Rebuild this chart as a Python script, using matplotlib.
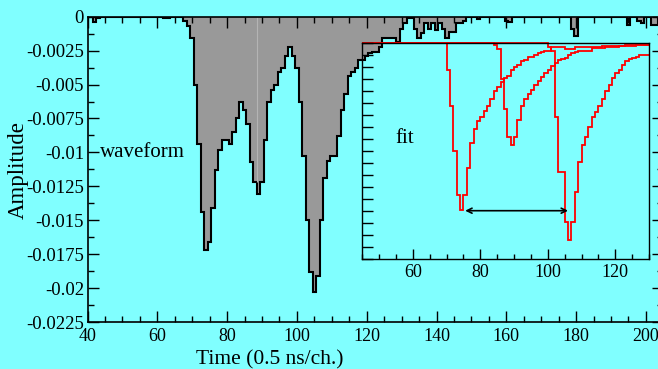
import matplotlib
matplotlib.use("Agg")
import matplotlib.pyplot as plt
import matplotlib.transforms as mtransforms
import numpy as np
from matplotlib.ticker import MultipleLocator

plt.rcParams['font.family'] = ['Liberation Serif', 'DejaVu Serif']
plt.rcParams['axes.unicode_minus'] = False

BG = '#80ffff'

# digitised waveform, one value per channel (channels 40..205)
wave_start = 40
wave_amp = [
    0, 0, -0.0004, -0.0001, 0, 0, 0, 0, 0, 0,                                   # 40-49
    0, 0, 0, 0, 0, 0, 0, 0, 0, 0,                                                # 50-59
    0, 0, -0.0001, -0.0001, 0, 0, 0, 0, -0.0003, -0.0007,                        # 60-69
    -0.0016, -0.0050, -0.0094, -0.0144, -0.0172, -0.0166, -0.0141, -0.0113, -0.0098, -0.0091,  # 70-79
    -0.0091, -0.0094, -0.0085, -0.0075, -0.0063, -0.0069, -0.0079, -0.0107, -0.0122, -0.0131,  # 80-89
    -0.0122, -0.0091, -0.0063, -0.0054, -0.0050, -0.0041, -0.0038, -0.0029, -0.0022, -0.0029,  # 90-99
    -0.0038, -0.0063, -0.0103, -0.0150, -0.0188, -0.0203, -0.0191, -0.0150, -0.0119, -0.0106,  # 100-109
    -0.0103, -0.0103, -0.0088, -0.0069, -0.0057, -0.0044, -0.0041, -0.0038, -0.0032, -0.0032,  # 110-119
    -0.0029, -0.0027, -0.0026, -0.0026, -0.0022, -0.0016, -0.0016, -0.0016, -0.0016, -0.0019,  # 120-129
    -0.0009, -0.0005, -0.0001, -0.0001, -0.0009, -0.0016, -0.0012, -0.0005, -0.0009, -0.0005,  # 130-139
    -0.0010, -0.0005, -0.0009, -0.0016, -0.0011, -0.0011, -0.0005, -0.0005, -0.0003, 0,        # 140-149
    0, 0, -0.0002, 0, 0, 0, 0, 0, 0, 0,                                          # 150-159
    -0.0003, -0.0004, 0, 0, 0, 0, 0, 0, 0, 0,                                    # 160-169
    0, 0, 0, 0, 0, 0, 0, 0, 0, -0.0009,                                          # 170-179
    -0.0014, 0, 0, 0, 0, 0, 0, 0, 0, 0,                                          # 180-189
    0, 0, 0, 0, 0, -0.0006, 0, 0, -0.0003, -0.0005,                              # 190-199
    0, 0, -0.0006, -0.0006, 0, 0,                                                # 200-205
]

# fitted single pulses (inset), values per channel from the given start channel
fit_lo, fit_hi = 45, 130
pulse_a_start = 70
pulse_a = [-0.0022, -0.0052, -0.0090, -0.0126, -0.0139, -0.0126, -0.0104, -0.0083, -0.0071, -0.0065,
           -0.0061, -0.0056, -0.0052, -0.0046, -0.0040, -0.0036, -0.0032, -0.0029, -0.0027, -0.0022,
           -0.0020, -0.0018, -0.0015, -0.0014, -0.0011, -0.0011, -0.0010, -0.0008, -0.0007, -0.0006,
           -0.0006, -0.0003, -0.0003, -0.0003, -0.0003, -0.0005, -0.0005, -0.0005, -0.0003, -0.0003,
           -0.0003, -0.0003, -0.0003, -0.0003, -0.0003, -0.0003, -0.0002, -0.0002, -0.0002, -0.0002,
           -0.0002, -0.0002, -0.0002, -0.0001, -0.0001, -0.0001, -0.0001, -0.0001, -0.0001, -0.0001]
pulse_b_start = 84
pulse_b = [-0.0001, -0.0005, -0.0030, -0.0055, -0.0078, -0.0085, -0.0078, -0.0064, -0.0052, -0.0046,
           -0.0042, -0.0039, -0.0035, -0.0031, -0.0028, -0.0025, -0.0022, -0.0019, -0.0016, -0.0014,
           -0.0013, -0.0012, -0.0010, -0.0008, -0.0007, -0.0006, -0.0006, -0.0006, -0.0006, -0.0004,
           -0.0004, -0.0004, -0.0004, -0.0003, -0.0003, -0.0003, -0.0003, -0.0002, -0.0002, -0.0002,
           -0.0002, -0.0002, -0.0001, -0.0001, -0.0001, -0.0001]
pulse_c_start = 100
pulse_c = [-0.0003, -0.0006, -0.0061, -0.0107, -0.0107, -0.0149, -0.0164, -0.0149, -0.0124, -0.0099,
           -0.0085, -0.0078, -0.0070, -0.0061, -0.0057, -0.0052, -0.0046, -0.0040, -0.0035, -0.0029,
           -0.0025, -0.0022, -0.0018, -0.0015, -0.0013, -0.0012, -0.0011, -0.0010, -0.0010, -0.0010]

# time difference marker between the two big pulses
arrow_x0, arrow_x1, arrow_y = 75.5, 106.0, -0.01395

W, H = 658, 369
fig = plt.figure(figsize=(W / 100, H / 100), dpi=100, facecolor=BG)

# main axes (right edge runs just past the picture border)
ax = fig.add_axes([87.5 / W, 1 - 322 / H, (663.4 - 87.5) / W, (322 - 16.7) / H], facecolor=BG)
edges = np.arange(wave_start - 0.5, wave_start + len(wave_amp) + 0.5)
ax.stairs(wave_amp, edges, fill=True, color='#999999', baseline=0)
ax.vlines(88.5, wave_amp[88 - wave_start], 0, color='#b4b4b4', lw=0.8)
ax.stairs(wave_amp, edges, color='black', lw=1.5, baseline=None)

ax.set_xlim(40, 205)
ax.set_ylim(-0.0225, 0)
ax.xaxis.set_major_locator(MultipleLocator(20))
ax.xaxis.set_minor_locator(MultipleLocator(5))
yt = np.arange(0, -0.0226, -0.0025)
ax.set_yticks(yt)
ax.set_yticklabels(['0', '-0.0025', '-0.005', '-0.0075', '-0.01', '-0.0125',
                    '-0.015', '-0.0175', '-0.02', '-0.0225'])
ax.yaxis.set_minor_locator(MultipleLocator(0.00125))
ax.tick_params(which='both', direction='in', top=True, right=True, width=1, labelsize=13.5)
ax.tick_params(which='major', length=8)
ax.tick_params(which='minor', length=4)
ax.tick_params(axis='x', pad=4.5, labelsize=13)
ax.tick_params(axis='y', pad=2.5)
for s in ax.spines.values():
    s.set_linewidth(1.2)

# keep the last x label inside the figure border
fig.canvas.draw()
last = ax.get_xticklabels()[-1]
last.set_transform(last.get_transform() + mtransforms.ScaledTranslation(-3 / 100, 0, fig.dpi_scale_trans))

ax.text(43.7, -0.01034, 'waveform', fontsize=15, ha='left', va='baseline')
fig.text(270 / W, 1 - 364 / H, 'Time (0.5 ns/ch.)', fontsize=15.5, ha='center', va='baseline')
fig.text(18.5 / W, 1 - 170 / H, 'Amplitude', fontsize=16.5, rotation=90, ha='center', va='center')

# inset with the fitted pulses
ax_in = fig.add_axes([362.3 / W, 1 - 259.3 / H, (649 - 362.3) / W, 216 / H])
ax_in.patch.set_alpha(0)
fit_edges = np.arange(fit_lo, fit_hi + 1)
for start, vals in [(pulse_a_start, pulse_a), (pulse_b_start, pulse_b), (pulse_c_start, pulse_c)]:
    curve = np.zeros(fit_hi - fit_lo)
    curve[start - fit_lo:start - fit_lo + len(vals)] = vals
    ax_in.stairs(curve, fit_edges, color='red', lw=1.3, baseline=None, clip_on=False)

ax_in.annotate('', xy=(arrow_x1, arrow_y), xytext=(arrow_x0, arrow_y),
               arrowprops=dict(arrowstyle='<->', color='black', lw=1.2,
                               shrinkA=0, shrinkB=0, mutation_scale=9))
ax_in.text(0.1165, 0.537, 'fit', transform=ax_in.transAxes, fontsize=15, ha='left', va='baseline')

ax_in.set_xlim(fit_lo, fit_hi)
ax_in.set_ylim(-0.018, 0)
ax_in.xaxis.set_major_locator(MultipleLocator(20))
ax_in.xaxis.set_minor_locator(MultipleLocator(5))
ax_in.yaxis.set_major_locator(MultipleLocator(0.001))
ax_in.tick_params(which='both', direction='in', top=False, right=False, width=1, labelsize=13)
ax_in.tick_params(axis='y', which='major', length=8, labelleft=False)
ax_in.tick_params(axis='x', which='major', length=7, pad=3.5)
ax_in.tick_params(axis='x', which='minor', length=3.5)
for s in ax_in.spines.values():
    s.set_linewidth(1.0)

fig.savefig('out.png', dpi=100, facecolor=BG)
